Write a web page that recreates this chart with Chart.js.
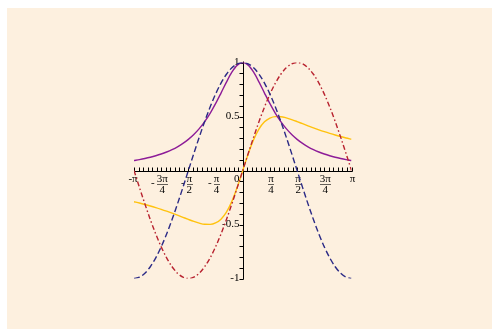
<!DOCTYPE html>
<html>
<head>
<meta charset="utf-8">
<script src="https://cdn.jsdelivr.net/npm/chart.js@4/dist/chart.umd.min.js"></script>
<style>
  html, body { margin: 0; padding: 0; background: #ffffff; }
  #wrap { width: 492px; height: 329px; position: relative; }
</style>
</head>
<body>
<div id="wrap"><canvas id="plot" width="492" height="329"></canvas></div>
<script>
// Sample abscissae, in radians, from -pi to pi
const xs = [-3.1416, -2.9845, -2.8274, -2.6704, -2.5133, -2.3562, -2.1991, -2.0420, -1.8850, -1.7279,
  -1.5708, -1.4137, -1.2566, -1.0996, -0.9425, -0.7854, -0.6283, -0.4712, -0.3142, -0.1571,
  0,
  0.1571, 0.3142, 0.4712, 0.6283, 0.7854, 0.9425, 1.0996, 1.2566, 1.4137, 1.5708,
  1.7279, 1.8850, 2.0420, 2.1991, 2.3562, 2.5133, 2.6704, 2.8274, 2.9845, 3.1416];

// cos x
const cosVals = [-1, -0.9877, -0.9511, -0.8910, -0.8090, -0.7071, -0.5878, -0.4540, -0.3090, -0.1564,
  0, 0.1564, 0.3090, 0.4540, 0.5878, 0.7071, 0.8090, 0.8910, 0.9511, 0.9877,
  1,
  0.9877, 0.9511, 0.8910, 0.8090, 0.7071, 0.5878, 0.4540, 0.3090, 0.1564, 0,
  -0.1564, -0.3090, -0.4540, -0.5878, -0.7071, -0.8090, -0.8910, -0.9511, -0.9877, -1];

// sin x
const sinVals = [0, -0.1564, -0.3090, -0.4540, -0.5878, -0.7071, -0.8090, -0.8910, -0.9511, -0.9877,
  -1, -0.9877, -0.9511, -0.8910, -0.8090, -0.7071, -0.5878, -0.4540, -0.3090, -0.1564,
  0,
  0.1564, 0.3090, 0.4540, 0.5878, 0.7071, 0.8090, 0.8910, 0.9511, 0.9877, 1,
  0.9877, 0.9511, 0.8910, 0.8090, 0.7071, 0.5878, 0.4540, 0.3090, 0.1564, 0];

// 1 / (1 + x^2)
const bellVals = [0.0920, 0.1009, 0.1112, 0.1230, 0.1367, 0.1526, 0.1713, 0.1934, 0.2196, 0.2509,
  0.2884, 0.3335, 0.3877, 0.4527, 0.5296, 0.6185, 0.7170, 0.8183, 0.9102, 0.9759,
  1,
  0.9759, 0.9102, 0.8183, 0.7170, 0.6185, 0.5296, 0.4527, 0.3877, 0.3335, 0.2884,
  0.2509, 0.2196, 0.1934, 0.1713, 0.1526, 0.1367, 0.1230, 0.1112, 0.1009, 0.0920];

// x / (1 + x^2)
const ratioVals = [-0.2890, -0.3012, -0.3144, -0.3284, -0.3435, -0.3596, -0.3768, -0.3950, -0.4140, -0.4335,
  -0.4530, -0.4715, -0.4872, -0.4978, -0.4991, -0.4858, -0.4505, -0.3856, -0.2859, -0.1533,
  0,
  0.1533, 0.2859, 0.3856, 0.4505, 0.4858, 0.4991, 0.4978, 0.4872, 0.4715, 0.4530,
  0.4335, 0.4140, 0.3950, 0.3768, 0.3596, 0.3435, 0.3284, 0.3144, 0.3012, 0.2890];

// Horizontal axis labels: value, sign, numerator, denominator
const xTickValues = [-3.14159, -2.35619, -1.5708, -0.7854, 0, 0.7854, 1.5708, 2.35619, 3.14159];
const xTickSigns  = ['-', '-', '-', '-', '', '', '', '', ''];
const xTickNums   = ['π', '3π', 'π', 'π', '0', 'π', 'π', '3π', 'π'];
const xTickDens   = ['', '4', '2', '4', '', '4', '2', '4', ''];

// Vertical axis labels
const yTickValues = [-1, -0.5, 0.5, 1];
const yTickLabels = ['-1', '-0.5', '0.5', '1'];

const pts = vals => xs.map((x, i) => ({ x: x, y: vals[i] }));

const FONT = '11px "Liberation Serif", "DejaVu Serif", serif';

const framePlugin = {
  id: 'frame',
  beforeDraw(chart) {
    const ctx = chart.ctx;
    ctx.save();
    ctx.fillStyle = '#ffffff';
    ctx.fillRect(0, 0, chart.width, chart.height);
    ctx.fillStyle = '#fdf0df';
    ctx.fillRect(7, 8, chart.width - 7, chart.height - 8);
    ctx.restore();
  },
  beforeDatasetsDraw(chart) {
    const ctx = chart.ctx;
    const sx = chart.scales.x, sy = chart.scales.y;
    const x0 = Math.round(sx.getPixelForValue(0)) + 0.5;
    const y0 = Math.round(sy.getPixelForValue(0)) + 0.5;
    ctx.save();
    ctx.strokeStyle = '#000000';
    ctx.lineWidth = 1;
    // axis lines through the origin
    ctx.beginPath();
    ctx.moveTo(sx.getPixelForValue(-Math.PI), y0);
    ctx.lineTo(sx.getPixelForValue(Math.PI) + 1, y0);
    ctx.moveTo(x0, sy.getPixelForValue(1) - 1);
    ctx.lineTo(x0, sy.getPixelForValue(-1) + 1);
    ctx.stroke();
    // x ticks every pi/24, pointing up
    ctx.beginPath();
    for (let i = -24; i <= 24; i++) {
      const px = Math.round(sx.getPixelForValue(i * Math.PI / 24)) + 0.5;
      ctx.moveTo(px, y0);
      ctx.lineTo(px, y0 - 4);
    }
    // y ticks every 0.1, pointing left
    for (let i = -10; i <= 10; i++) {
      const py = Math.round(sy.getPixelForValue(i / 10)) + 0.5;
      ctx.moveTo(x0, py);
      ctx.lineTo(x0 - 4, py);
    }
    ctx.stroke();

    ctx.fillStyle = '#000000';
    ctx.font = FONT;
    // x labels
    for (let i = 0; i < xTickValues.length; i++) {
      let cx = sx.getPixelForValue(xTickValues[i]) + 1;
      const num = xTickNums[i], den = xTickDens[i], sign = xTickSigns[i];
      const top = y0 + 2;
      ctx.textBaseline = 'top';
      if (xTickValues[i] === 0) {
        ctx.textAlign = 'right';
        ctx.fillText(num, x0 - 4, top);
        continue;
      }
      if (!den) {
        ctx.textAlign = 'center';
        ctx.fillText(sign + num, cx - (sign ? 2 : 0), top);
        continue;
      }
      const w = Math.max(ctx.measureText(num).width, ctx.measureText(den).width);
      ctx.textAlign = 'center';
      ctx.fillText(num, cx, top);
      ctx.fillText(den, cx, top + 11);
      ctx.fillRect(Math.round(cx - w / 2), Math.round(top + 10), Math.round(w), 0.6);
      if (sign) {
        ctx.textAlign = 'right';
        ctx.textBaseline = 'middle';
        ctx.fillText(sign, cx - w / 2 - 2, top + 10);
      }
    }
    // y labels
    ctx.textAlign = 'right';
    ctx.textBaseline = 'middle';
    for (let i = 0; i < yTickValues.length; i++) {
      ctx.fillText(yTickLabels[i], x0 - 4, sy.getPixelForValue(yTickValues[i]));
    }
    ctx.restore();
  }
};

const lineStyle = {
  pointRadius: 0,
  borderWidth: 1.4,
  fill: false,
  cubicInterpolationMode: 'monotone'
};

new Chart(document.getElementById('plot'), {
  type: 'line',
  data: {
    datasets: [
      Object.assign({ label: 'cos x', data: pts(cosVals), borderColor: '#2b2a86', borderDash: [6, 3] }, lineStyle),
      Object.assign({ label: 'sin x', data: pts(sinVals), borderColor: '#b8222f', borderDash: [5, 2.5, 1.5, 2.5] }, lineStyle),
      Object.assign({ label: '1/(1+x^2)', data: pts(bellVals), borderColor: '#8d1c98' }, lineStyle),
      Object.assign({ label: 'x/(1+x^2)', data: pts(ratioVals), borderColor: '#ffc20e' }, lineStyle)
    ]
  },
  options: {
    responsive: false,
    animation: false,
    events: [],
    layout: { padding: { left: 134, right: 140.5, top: 62.5, bottom: 50.5 } },
    plugins: { legend: { display: false }, tooltip: { enabled: false } },
    scales: {
      x: { type: 'linear', min: -Math.PI, max: Math.PI, display: false },
      y: { type: 'linear', min: -1, max: 1, display: false }
    }
  },
  plugins: [framePlugin]
});
</script>
</body>
</html>
